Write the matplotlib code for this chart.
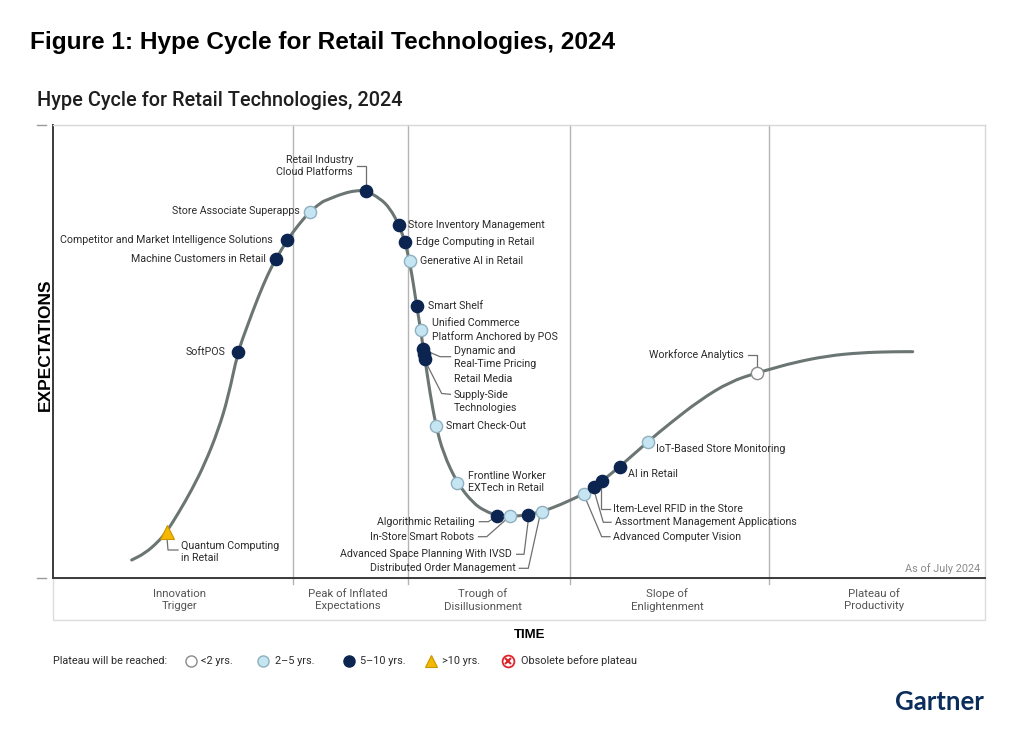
import matplotlib
matplotlib.use("Agg")
import matplotlib.pyplot as plt
from matplotlib.patches import Rectangle, PathPatch
from matplotlib.path import Path

plt.rcParams['font.family'] = ['Roboto', 'DejaVu Sans']

# ---------------- data (pixel-like units) ----------------
curve_x = [131.7, 145, 158.3, 166.7, 178.3, 191.7, 205, 218.3, 228.3, 237.7, 248.3,
           258.3, 268.3, 275.7, 287.3, 298.3, 309.3, 321.7, 326.7, 343.3, 356.7, 365.7,
           380, 390, 399, 405, 409.5, 413.3, 416.7, 420.7, 423.3, 425, 430, 436,
           443.3, 457.3, 473.3, 485, 497.3, 510, 520, 528.3, 541.7, 560, 584, 593.7,
           602, 620, 647.7, 670, 700, 730, 757.3, 770, 793.3, 826.7, 860, 893.3, 912.7]
curve_y = [560, 553.3, 541.7, 531.7, 513.3, 490, 463.3, 430, 396.7, 352.3, 323.3,
           296.7, 273.3, 259.3, 240, 225, 212.3, 202, 200, 193.3, 190.5, 190.7,
           198.3, 208.3, 225, 241.7, 261.3, 283.3, 306, 330, 349, 359.3, 393.3, 426,
           453.3, 483.3, 503.3, 511, 515.7, 516.3, 515.8, 514.5, 511.7, 505, 493.8, 487,
           481, 466.5, 441.8, 423.3, 400, 381.7, 372.7, 369.3, 362.7, 356, 352.7, 351.7, 351.7]

tech_names = ["Quantum Computing\nin Retail", "SoftPOS", "Machine Customers in Retail",
              "Competitor and Market Intelligence Solutions", "Store Associate Superapps",
              "Retail Industry\nCloud Platforms", "Store Inventory Management",
              "Edge Computing in Retail", "Generative AI in Retail", "Smart Shelf",
              "Unified Commerce\nPlatform Anchored by POS", "Dynamic and\nReal-Time Pricing",
              "Retail Media", "Supply-Side\nTechnologies", "Smart Check-Out",
              "Frontline Worker\nEXTech in Retail", "Algorithmic Retailing",
              "In-Store Smart Robots", "Advanced Space Planning With IVSD",
              "Distributed Order Management", "Advanced Computer Vision",
              "Assortment Management Applications", "Item-Level RFID in the Store",
              "AI in Retail", "IoT-Based Store Monitoring", "Workforce Analytics"]
tech_x = [166.7, 237.7, 275.7, 287.3, 309.5, 365.7, 399, 405, 409.5, 416.7, 420.7, 423.3,
          424.2, 425, 436, 457.3, 497.3, 509.5, 528.3, 541.5, 584, 593.7, 602, 620,
          647.7, 757.3]
tech_y = [531.7, 352.3, 259.3, 240, 212, 190.7, 225, 241.7, 261.3, 306, 330, 349,
          354, 359.3, 426, 483.3, 515.7, 516.3, 514.5, 511.7, 493.8, 487, 481, 466.5,
          441.8, 372.7]
# plateau class: 0 = <2 yrs, 1 = 2-5 yrs, 2 = 5-10 yrs, 3 = >10 yrs
tech_class = [3, 2, 2, 2, 1, 2, 2, 2, 1, 2, 1, 2, 2, 2, 1, 1, 2, 1, 2, 1, 1, 2, 2, 2, 1, 0]

phase_names = ["Innovation\nTrigger", "Peak of Inflated\nExpectations", "Trough of\nDisillusionment",
               "Slope of\nEnlightenment", "Plateau of\nProductivity"]
phase_bounds = [53, 293, 408, 570, 769, 985]
phase_label_x = [180, 348, 483, 667, 874]

legend_labels = ["<2 yrs.", "2\u20135 yrs.", "5\u201310 yrs.", ">10 yrs.", "Obsolete before plateau"]

# ---------------- styles ----------------
W, H = 1024, 756
DARK = '#0b2550'
LIGHT = '#c6e5f3'
TRI = '#f5b700'
CURVE = '#6b7574'
TXT = '#2b2b2b'
styles = {
    0: dict(marker='o', ms=8.8, mfc='white', mec='#8a8a8a', mew=1.0),
    1: dict(marker='o', ms=8.8, mfc=LIGHT, mec='#8fb0bf', mew=1.0),
    2: dict(marker='o', ms=8.8, mfc=DARK, mec=DARK, mew=1.0),
    3: dict(marker='^', ms=9.5, mfc=TRI, mec='#c99600', mew=0.8),
}

# label layout: (text x, text y, ha, leader path or None)
label_layout = {
    0: (181, 552, 'left', [(167, 538), (168, 550), (178, 550)]),
    1: (225, 352, 'right', None),
    2: (266, 259, 'right', None),
    3: (273, 240, 'right', None),
    4: (300, 211.5, 'right', None),
    5: (353, 166, 'right', [(365.7, 186), (365.7, 166), (357, 166)]),
    6: (408.5, 225, 'left', None),
    7: (416, 242, 'left', None),
    8: (419.5, 261.5, 'left', None),
    9: (427.5, 306, 'left', None),
    10: (431.5, 330, 'left', None),
    11: (453.5, 357.5, 'left', [(428, 351.5), (440, 356.7), (450.5, 356.7)]),
    12: (453.5, 379.5, 'left', None),
    13: (453.5, 401.5, 'left', [(426.7, 364), (441.7, 393.5), (450.5, 394.3)]),
    14: (446, 426, 'left', None),
    15: (468.5, 482, 'left', None),
    16: (475, 521.7, 'right', [(479.3, 521.7), (488.3, 521.7), (494, 518)]),
    17: (474, 536.7, 'right', [(478.5, 536.7), (486.7, 536.7), (505, 520.5)]),
    18: (512.3, 554.3, 'right', [(516.7, 554.3), (524, 554.3), (528.3, 520)]),
    19: (516, 568.3, 'right', [(519.3, 568.3), (528.3, 568.3), (539.5, 517.5)]),
    20: (613.3, 537.3, 'left', [(585.5, 498.5), (601.7, 536.7), (610, 536.7)]),
    21: (615, 522.3, 'left', [(594.5, 492), (603.3, 522.3), (611, 522.3)]),
    22: (613.3, 508.7, 'left', [(601.3, 485.5), (601.3, 508.7), (610, 508.7)]),
    23: (628.3, 474, 'left', None),
    24: (656, 449.5, 'left', None),
    25: (744, 354.5, 'right', [(756.7, 367), (756.7, 355), (748.3, 355)]),
}

fig = plt.figure(figsize=(W / 100, H / 100), dpi=100)
fig.patch.set_facecolor('white')

# overlay axes in pixel coordinates for decoration
ov = fig.add_axes([0, 0, 1, 1])
ov.set_xlim(0, W)
ov.set_ylim(H, 0)
ov.axis('off')

# main chart axes
x0, x1, y0, y1 = 53, 985, 125, 578
ax = fig.add_axes([x0 / W, 1 - y1 / H, (x1 - x0) / W, (y1 - y0) / H])
ax.set_xlim(x0, x1)
ax.set_ylim(y1, y0)
ax.set_xticks([])
ax.set_yticks([])
for s in ['top', 'right']:
    ax.spines[s].set_color('#d8d8d8')
    ax.spines[s].set_linewidth(1.0)
for s in ['left', 'bottom']:
    ax.spines[s].set_color('#3a3a3a')
    ax.spines[s].set_linewidth(1.4)
ax.set_zorder(2)
ax.patch.set_alpha(0)

# phase dividers
for b in phase_bounds[1:-1]:
    ax.plot([b, b], [y0, y1 + 6], color='#b4b4b4', lw=1.0, clip_on=False, zorder=1)

# phase strip
ov.add_patch(Rectangle((x0, y1), x1 - x0, 620 - y1, fill=False, ec='#dcdcdc', lw=1.0))
for name, px in zip(phase_names, phase_label_x):
    ov.text(px, 600, name, ha='center', va='center', fontsize=8.2, color='#555555',
            linespacing=1.35)

# left tick marks
for yy in (y0, y1):
    ov.plot([37, 46], [yy, yy], color='#9a9a9a', lw=1.0)

# curve: smooth quadratic B-spline path through the read points
pts = list(zip(curve_x, curve_y))
verts = [pts[0], ((pts[0][0] + pts[1][0]) / 2, (pts[0][1] + pts[1][1]) / 2)]
codes = [Path.MOVETO, Path.LINETO]
for i in range(1, len(pts) - 1):
    mid = ((pts[i][0] + pts[i + 1][0]) / 2, (pts[i][1] + pts[i + 1][1]) / 2)
    verts += [pts[i], mid]
    codes += [Path.CURVE3, Path.CURVE3]
verts.append(pts[-1])
codes.append(Path.LINETO)
ax.add_patch(PathPatch(Path(verts, codes), fill=False, ec=CURVE, lw=2.2,
                       capstyle='round', zorder=3))

# leaders + labels
for i, name in enumerate(tech_names):
    tx, ty, ha, path = label_layout[i]
    if path:
        ax.plot([p[0] for p in path], [p[1] for p in path], color='#6f6f6f', lw=0.9,
                clip_on=False, zorder=3)
    ax.text(tx, ty, name, ha=ha, va='center', fontsize=7.65, color=TXT,
            linespacing=1.3, clip_on=False, zorder=4)

# markers
for xx, yy, c in zip(tech_x, tech_y, tech_class):
    ax.plot([xx], [yy], ls='none', zorder=5, clip_on=False, **styles[c])

ax.text(980, 569, "As of July 2024", ha='right', va='center', fontsize=7.8, color='#8a8a8a')

# titles
ov.text(30, 42, "Figure 1: Hype Cycle for Retail Technologies, 2024", ha='left', va='center',
        fontsize=17.6, fontweight='bold', color='black', family=['Liberation Sans', 'DejaVu Sans'])
ov.text(37, 101, "Hype Cycle for Retail Technologies, 2024", ha='left', va='center',
        fontsize=14.3, color='#1e1e1e', fontweight='medium')

# axis labels
ov.text(45, 345, "EXPECTATIONS", rotation=90, ha='center', va='center', fontsize=12.5,
        fontweight='bold', color='black', family=['Liberation Sans', 'DejaVu Sans'])
ov.text(530, 635, "TIME", ha='center', va='center', fontsize=9.5, fontweight='bold',
        color='black', family=['Liberation Sans', 'DejaVu Sans'])

# legend
ly = 661
ov.text(53, ly, "Plateau will be reached:", ha='left', va='center', fontsize=7.8, color=TXT)
leg_sym_x = [191, 263, 349, 431, 508]
leg_txt_x = [201, 275, 360, 442, 521]
for k in range(4):
    st = dict(styles[k])
    st['ms'] = 8 if k < 3 else 9
    ov.plot([leg_sym_x[k]], [ly], ls='none', **st)
ov.plot([leg_sym_x[4]], [ly], marker='o', ms=8.5, mfc='white', mec='#e0242b', mew=1.3, ls='none')
ov.plot([leg_sym_x[4]], [ly], marker='x', ms=4.5, mec='#e0242b', mew=1.5, ls='none')
for lab, tx in zip(legend_labels, leg_txt_x):
    ov.text(tx, ly, lab, ha='left', va='center', fontsize=7.8, color=TXT)

# Gartner logo
ov.text(939, 702, "Gartner", ha='center', va='center', fontsize=18.5, fontweight='bold',
        color='#0a2d5c', family=['Lato', 'DejaVu Sans'])

fig.savefig("out.png", dpi=100, facecolor='white')
